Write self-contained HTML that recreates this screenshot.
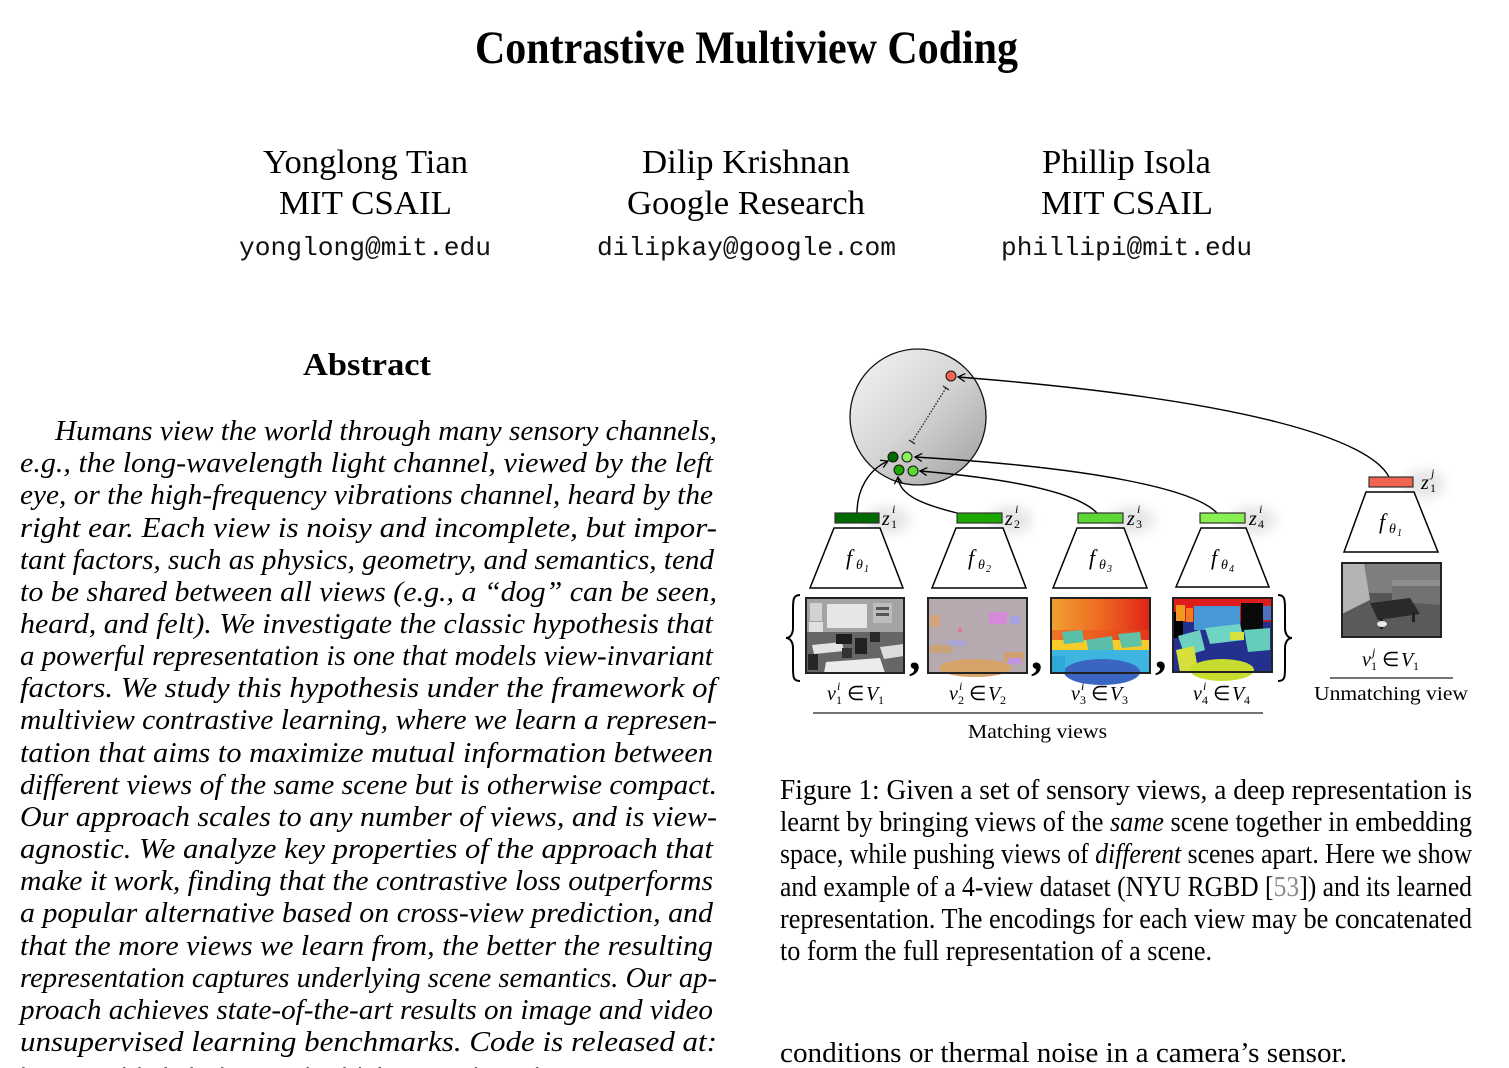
<!DOCTYPE html>
<html><head><meta charset="utf-8"><style>
html,body{margin:0;padding:0;background:#fff;}
svg{display:block;}
.t{font-family:"Liberation Serif",serif;fill:#000;}
.i{font-family:"Liberation Serif",serif;font-style:italic;fill:#000;}
.m{font-family:"Liberation Mono",monospace;fill:#111;}
</style></head><body>
<svg width="1509" height="1068" viewBox="0 0 1509 1068" xmlns="http://www.w3.org/2000/svg">
<defs>
<linearGradient id="sph" x1="0" y1="0" x2="1" y2="1">
<stop offset="0" stop-color="#f6f6f6"/><stop offset="0.5" stop-color="#d4d4d4"/><stop offset="1" stop-color="#9c9c9c"/>
</linearGradient>
<linearGradient id="dep" x1="0" y1="0" x2="1" y2="0">
<stop offset="0" stop-color="#f0a030"/><stop offset="0.5" stop-color="#ee6a22"/><stop offset="1" stop-color="#de2418"/>
</linearGradient>
<marker id="ar" markerWidth="10" markerHeight="10" refX="8" refY="5" orient="auto" markerUnits="userSpaceOnUse">
<path d="M1,1 L8,5 L1,9" fill="none" stroke="#000" stroke-width="1.3"/>
</marker>
<filter id="bl" x="-50%" y="-50%" width="200%" height="200%"><feGaussianBlur stdDeviation="6"/></filter>
</defs>

<text class="t" x="475" y="63" font-size="47" font-weight="bold" textLength="543" lengthAdjust="spacingAndGlyphs">Contrastive Multiview Coding</text>

<text class="t" x="263" y="173" font-size="34" textLength="205" lengthAdjust="spacingAndGlyphs">Yonglong Tian</text>
<text class="t" x="279" y="214" font-size="34" textLength="173" lengthAdjust="spacingAndGlyphs">MIT CSAIL</text>
<text class="m" x="239" y="255" font-size="26" textLength="252" lengthAdjust="spacingAndGlyphs">yonglong@mit.edu</text>

<text class="t" x="642" y="173" font-size="34" textLength="208" lengthAdjust="spacingAndGlyphs">Dilip Krishnan</text>
<text class="t" x="627" y="214" font-size="34" textLength="238" lengthAdjust="spacingAndGlyphs">Google Research</text>
<text class="m" x="597" y="255" font-size="26" textLength="299" lengthAdjust="spacingAndGlyphs">dilipkay@google.com</text>

<text class="t" x="1042" y="173" font-size="34" textLength="169" lengthAdjust="spacingAndGlyphs">Phillip Isola</text>
<text class="t" x="1041" y="214" font-size="34" textLength="172" lengthAdjust="spacingAndGlyphs">MIT CSAIL</text>
<text class="m" x="1001" y="255" font-size="26" textLength="251" lengthAdjust="spacingAndGlyphs">phillipi@mit.edu</text>

<text class="t" x="303" y="375" font-size="32" font-weight="bold" textLength="128" lengthAdjust="spacingAndGlyphs">Abstract</text>

<g class="i" font-size="29">
<text class="i" x="55" y="440" textLength="662" lengthAdjust="spacingAndGlyphs">Humans view the world through many sensory channels,</text>
<text class="i" x="20" y="472" textLength="693" lengthAdjust="spacingAndGlyphs">e.g., the long-wavelength light channel, viewed by the left</text>
<text class="i" x="20" y="504" textLength="693" lengthAdjust="spacingAndGlyphs">eye, or the high-frequency vibrations channel, heard by the</text>
<text class="i" x="20" y="537" textLength="697" lengthAdjust="spacingAndGlyphs">right ear.  Each view is noisy and incomplete, but impor-</text>
<text class="i" x="20" y="569" textLength="694" lengthAdjust="spacingAndGlyphs">tant factors, such as physics, geometry, and semantics, tend</text>
<text class="i" x="20" y="601" textLength="697" lengthAdjust="spacingAndGlyphs">to be shared between all views (e.g., a “dog” can be seen,</text>
<text class="i" x="20" y="633" textLength="693" lengthAdjust="spacingAndGlyphs">heard, and felt). We investigate the classic hypothesis that</text>
<text class="i" x="20" y="665" textLength="693" lengthAdjust="spacingAndGlyphs">a powerful representation is one that models view-invariant</text>
<text class="i" x="20" y="697" textLength="696" lengthAdjust="spacingAndGlyphs">factors.  We study this hypothesis under the framework of</text>
<text class="i" x="20" y="729" textLength="697" lengthAdjust="spacingAndGlyphs">multiview contrastive learning, where we learn a represen-</text>
<text class="i" x="20" y="762" textLength="693" lengthAdjust="spacingAndGlyphs">tation that aims to maximize mutual information between</text>
<text class="i" x="20" y="794" textLength="697" lengthAdjust="spacingAndGlyphs">different views of the same scene but is otherwise compact.</text>
<text class="i" x="20" y="826" textLength="697" lengthAdjust="spacingAndGlyphs">Our approach scales to any number of views, and is view-</text>
<text class="i" x="20" y="858" textLength="693" lengthAdjust="spacingAndGlyphs">agnostic.  We analyze key properties of the approach that</text>
<text class="i" x="20" y="890" textLength="693" lengthAdjust="spacingAndGlyphs">make it work, finding that the contrastive loss outperforms</text>
<text class="i" x="20" y="922" textLength="693" lengthAdjust="spacingAndGlyphs">a popular alternative based on cross-view prediction, and</text>
<text class="i" x="20" y="955" textLength="693" lengthAdjust="spacingAndGlyphs">that the more views we learn from, the better the resulting</text>
<text class="i" x="20" y="987" textLength="697" lengthAdjust="spacingAndGlyphs">representation captures underlying scene semantics. Our ap-</text>
<text class="i" x="20" y="1019" textLength="693" lengthAdjust="spacingAndGlyphs">proach achieves state-of-the-art results on image and video</text>
<text class="i" x="20" y="1051" textLength="697" lengthAdjust="spacingAndGlyphs">unsupervised learning benchmarks.  Code is released at:</text>
</g>
<text class="m" x="20" y="1084" font-size="23" textLength="520" lengthAdjust="spacingAndGlyphs" style="fill:#555">https://github.com/HobbitLong/CMC/</text>

<g font-size="28">
<text class="t" x="780" y="799" textLength="692" lengthAdjust="spacingAndGlyphs">Figure 1: Given a set of sensory views, a deep representation is</text>
<text class="t" x="780" y="831" textLength="692" lengthAdjust="spacingAndGlyphs">learnt by bringing views of the <tspan font-style="italic">same</tspan> scene together in embedding</text>
<text class="t" x="780" y="863" textLength="692" lengthAdjust="spacingAndGlyphs">space, while pushing views of <tspan font-style="italic">different</tspan> scenes apart. Here we show</text>
<text class="t" x="780" y="896" textLength="692" lengthAdjust="spacingAndGlyphs">and example of a 4-view dataset (NYU RGBD [<tspan fill="#8a8a8a">53</tspan>]) and its learned</text>
<text class="t" x="780" y="928" textLength="692" lengthAdjust="spacingAndGlyphs">representation. The encodings for each view may be concatenated</text>
<text class="t" x="780" y="960" textLength="432" lengthAdjust="spacingAndGlyphs">to form the full representation of a scene.</text>
<text class="t" x="780" y="1062" textLength="567" lengthAdjust="spacingAndGlyphs">conditions or thermal noise in a camera’s sensor.</text>
</g>

<g filter="url(#bl)" fill="#000" opacity="0.10">
<ellipse cx="888" cy="520" rx="22" ry="14"/>
<ellipse cx="1010" cy="520" rx="22" ry="14"/>
<ellipse cx="1132" cy="520" rx="22" ry="14"/>
<ellipse cx="1254" cy="520" rx="22" ry="14"/>
<ellipse cx="1425" cy="484" rx="20" ry="14"/>
</g>

<circle cx="918" cy="417" r="68" fill="url(#sph)" stroke="#111" stroke-width="1.3"/>
<line x1="946" y1="388" x2="912" y2="442" stroke="#222" stroke-width="1.3" stroke-dasharray="1.5,1.5"/>
<line x1="943" y1="386" x2="949" y2="390" stroke="#222" stroke-width="1.3"/>
<line x1="909" y1="440" x2="915" y2="444" stroke="#222" stroke-width="1.3"/>

<g fill="none" stroke="#000" stroke-width="1.4">
<path d="M1389,477 C1370,440 1250,400 958,377" marker-end="url(#ar)"/>
<path d="M1217,513 C1195,490 1100,468 915,457" marker-end="url(#ar)"/>
<path d="M1097,513 C1075,490 1000,478 920,471" marker-end="url(#ar)"/>
<path d="M957,513 C925,505 899,496 898,477" marker-end="url(#ar)"/>
<path d="M857,513 C857,490 868,470 888,461" marker-end="url(#ar)"/>
</g>

<g stroke="#111" stroke-width="1">
<circle cx="951" cy="376" r="5" fill="#f26452"/>
<circle cx="893" cy="457" r="5" fill="#006a00"/>
<circle cx="907" cy="457" r="5" fill="#8cf060"/>
<circle cx="899" cy="470" r="5" fill="#1aa800"/>
<circle cx="913" cy="471" r="5" fill="#5cd835"/>
</g>

<g stroke="#333" stroke-width="1.2">
<rect x="835" y="513" width="44" height="10" fill="#006a00"/>
<rect x="957" y="513" width="45" height="10" fill="#1aa800"/>
<rect x="1078" y="513" width="45" height="10" fill="#5cd835"/>
<rect x="1200" y="513" width="45" height="10" fill="#88f050"/>
<rect x="1369" y="477" width="44" height="10" fill="#f06450"/>
</g>

<g fill="#fff" stroke="#000" stroke-width="1.5">
<polygon points="834,528 880,528 903,588 810,588"/>
<polygon points="956,528 1003,528 1026,588 932,588"/>
<polygon points="1077,528 1124,528 1147,588 1053,588"/>
<polygon points="1201,528 1246,528 1269,587 1176,587"/>
<polygon points="1366,492 1414,492 1438,552 1344,552"/>
</g>

<g class="i">
<text class="i" x="846" y="565" font-size="22">f</text><text class="i" x="856" y="569" font-size="14">θ</text><text class="t" x="864" y="572" font-size="10">1</text>
<text class="i" x="968" y="565" font-size="22">f</text><text class="i" x="978" y="569" font-size="14">θ</text><text class="t" x="986" y="572" font-size="10">2</text>
<text class="i" x="1089" y="565" font-size="22">f</text><text class="i" x="1099" y="569" font-size="14">θ</text><text class="t" x="1107" y="572" font-size="10">3</text>
<text class="i" x="1211" y="565" font-size="22">f</text><text class="i" x="1221" y="569" font-size="14">θ</text><text class="t" x="1229" y="572" font-size="10">4</text>
<text class="i" x="1379" y="529" font-size="22">f</text><text class="i" x="1389" y="533" font-size="14">θ</text><text class="t" x="1397" y="536" font-size="10">1</text>
</g>

<g>
<text class="i" x="882" y="525" font-size="20">z</text><text class="i" x="892" y="513" font-size="12">i</text><text class="t" x="891" y="528" font-size="12">1</text>
<text class="i" x="1005" y="525" font-size="20">z</text><text class="i" x="1015" y="513" font-size="12">i</text><text class="t" x="1014" y="528" font-size="12">2</text>
<text class="i" x="1127" y="525" font-size="20">z</text><text class="i" x="1137" y="513" font-size="12">i</text><text class="t" x="1136" y="528" font-size="12">3</text>
<text class="i" x="1249" y="525" font-size="20">z</text><text class="i" x="1259" y="513" font-size="12">i</text><text class="t" x="1258" y="528" font-size="12">4</text>
<text class="i" x="1421" y="489" font-size="20">z</text><text class="i" x="1431" y="477" font-size="12">j</text><text class="t" x="1430" y="492" font-size="12">1</text>
</g>

<g>
<rect x="806" y="598" width="98" height="75" fill="#767676"/>
<rect x="806" y="598" width="98" height="34" fill="#a4a4a4"/>
<rect x="827" y="604" width="40" height="24" fill="#e6e6e6"/>
<rect x="810" y="603" width="12" height="18" fill="#d2d2d2"/>
<rect x="873" y="603" width="19" height="20" fill="#bdbdbd"/>
<rect x="876" y="607" width="13" height="3" fill="#555"/>
<rect x="876" y="613" width="13" height="3" fill="#555"/>
<rect x="809" y="622" width="14" height="16" fill="#e0e0e0"/>
<rect x="806" y="632" width="98" height="41" fill="#666"/>
<polygon points="812,645 842,642 844,651 814,654" fill="#e4e4e4"/>
<polygon points="880,647 904,644 904,656 884,659" fill="#dcdcdc"/>
<polygon points="826,662 880,658 885,673 824,673" fill="#ececec"/>
<rect x="836" y="634" width="16" height="10" fill="#1e1e1e"/>
<rect x="855" y="638" width="12" height="16" fill="#222"/>
<rect x="870" y="632" width="10" height="10" fill="#2a2a2a"/>
<rect x="808" y="654" width="10" height="16" fill="#262626"/>
<rect x="842" y="648" width="10" height="10" fill="#333"/>
<rect x="806" y="598" width="98" height="75" fill="none" stroke="#222" stroke-width="2"/>
</g>

<g>
<rect x="928" y="598" width="99" height="75" fill="#b6a9b0"/>
<ellipse cx="975" cy="668" rx="36" ry="9" fill="#d6a468"/>
<rect x="930" y="615" width="10" height="12" fill="#d2a47c"/>
<rect x="930" y="645" width="22" height="8" fill="#c9a27a"/>
<rect x="989" y="612" width="18" height="12" fill="#d48ad6"/>
<rect x="1010" y="616" width="10" height="8" fill="#a8a2e2"/>
<rect x="1004" y="652" width="20" height="10" fill="#d0a070"/>
<rect x="1008" y="658" width="14" height="6" fill="#c096e0"/>
<rect x="958" y="628" width="4" height="4" fill="#e07890"/>
<rect x="948" y="640" width="18" height="6" fill="#aaa6d4"/>
<rect x="928" y="598" width="99" height="75" fill="none" stroke="#222" stroke-width="2"/>
</g>

<g>
<rect x="1051" y="598" width="99" height="75" fill="url(#dep)"/>
<rect x="1051" y="630" width="99" height="14" fill="#e84c1c" opacity="0.5"/>
<rect x="1051" y="640" width="99" height="12" fill="#f6cc2a"/>
<polygon points="1062,632 1082,630 1084,642 1064,644" fill="#58c0a8"/>
<polygon points="1086,640 1112,636 1114,654 1090,656" fill="#5cbcaa"/>
<polygon points="1118,634 1140,632 1142,646 1122,648" fill="#62c2a6"/>
<rect x="1051" y="650" width="99" height="23" fill="#3eb4e0"/>
<ellipse cx="1102" cy="672" rx="38" ry="13" fill="#3a66c2"/>
<rect x="1051" y="656" width="14" height="17" fill="#2ea8d8"/>
<rect x="1051" y="598" width="99" height="75" fill="none" stroke="#222" stroke-width="2"/>
</g>

<g>
<rect x="1173" y="598" width="99" height="74" fill="#23308e"/>
<rect x="1173" y="598" width="99" height="16" fill="#e01c1c"/>
<rect x="1173" y="612" width="99" height="10" fill="#c81818"/>
<rect x="1173" y="612" width="10" height="26" fill="#000"/>
<rect x="1176" y="605" width="9" height="16" fill="#f09a20"/>
<rect x="1186" y="608" width="7" height="14" fill="#f07a20"/>
<rect x="1194" y="606" width="46" height="24" fill="#4898d8"/>
<rect x="1241" y="603" width="22" height="28" fill="#0a0a0a"/>
<rect x="1263" y="606" width="9" height="14" fill="#5070c0"/>
<polygon points="1178,636 1200,630 1205,650 1185,656" fill="#6ed0c0"/>
<polygon points="1205,628 1240,624 1244,640 1210,644" fill="#70d4c4"/>
<polygon points="1244,630 1270,628 1270,650 1248,652" fill="#66ccbc"/>
<polygon points="1176,650 1194,646 1198,670 1180,672" fill="#d6e03c"/>
<rect x="1230" y="632" width="14" height="8" fill="#d8e040"/>
<ellipse cx="1222" cy="670" rx="32" ry="11" fill="#c8dc30"/>
<rect x="1173" y="598" width="99" height="74" fill="none" stroke="#222" stroke-width="2"/>
</g>

<g>
<rect x="1342" y="563" width="99" height="74" fill="#555"/>
<rect x="1362" y="563" width="79" height="30" fill="#7e7e7e"/>
<polygon points="1342,563 1364,563 1370,600 1342,614" fill="#b4b4b4"/>
<rect x="1392" y="584" width="48" height="24" fill="#727272"/>
<rect x="1392" y="580" width="48" height="6" fill="#8e8e8e"/>
<polygon points="1342,614 1370,600 1441,605 1441,637 1342,637" fill="#5a5a5a"/>
<polygon points="1370,603 1410,598 1420,614 1378,620" fill="#2a2a2a"/>
<rect x="1380" y="619" width="3" height="10" fill="#222"/>
<rect x="1412" y="612" width="3" height="10" fill="#222"/>
<ellipse cx="1382" cy="624" rx="5" ry="3" fill="#e8e8e8"/>
<rect x="1342" y="563" width="99" height="74" fill="none" stroke="#222" stroke-width="2"/>
</g>

<g fill="none" stroke="#000" stroke-width="2">
<path d="M800,595 C793,595 793,600 793,610 L793,628 C793,634 790,638 786,638 C790,638 793,642 793,648 L793,667 C793,677 793,681 800,681"/>
<path d="M1278,595 C1285,595 1285,600 1285,610 L1285,628 C1285,634 1288,638 1292,638 C1288,638 1285,642 1285,648 L1285,667 C1285,677 1285,681 1278,681"/>
</g>

<text class="t" x="909" y="669" font-size="46" font-weight="bold">,</text>
<text class="t" x="1031" y="669" font-size="46" font-weight="bold">,</text>
<text class="t" x="1155" y="668" font-size="46" font-weight="bold">,</text>

<g>
<text class="i" x="827" y="700" font-size="20">v</text><text class="i" x="837" y="690" font-size="12">i</text><text class="t" x="836" y="704" font-size="12">1</text><text class="t" x="847" y="700" font-size="20">∈</text><text class="i" x="866" y="700" font-size="20">V</text><text class="t" x="878" y="704" font-size="12">1</text>
<text class="i" x="949" y="700" font-size="20">v</text><text class="i" x="959" y="690" font-size="12">i</text><text class="t" x="958" y="704" font-size="12">2</text><text class="t" x="969" y="700" font-size="20">∈</text><text class="i" x="988" y="700" font-size="20">V</text><text class="t" x="1000" y="704" font-size="12">2</text>
<text class="i" x="1071" y="700" font-size="20">v</text><text class="i" x="1081" y="690" font-size="12">i</text><text class="t" x="1080" y="704" font-size="12">3</text><text class="t" x="1091" y="700" font-size="20">∈</text><text class="i" x="1110" y="700" font-size="20">V</text><text class="t" x="1122" y="704" font-size="12">3</text>
<text class="i" x="1193" y="700" font-size="20">v</text><text class="i" x="1203" y="690" font-size="12">i</text><text class="t" x="1202" y="704" font-size="12">4</text><text class="t" x="1213" y="700" font-size="20">∈</text><text class="i" x="1232" y="700" font-size="20">V</text><text class="t" x="1244" y="704" font-size="12">4</text>
<text class="i" x="1362" y="666" font-size="20">v</text><text class="i" x="1372" y="656" font-size="12">j</text><text class="t" x="1371" y="670" font-size="12">1</text><text class="t" x="1382" y="666" font-size="20">∈</text><text class="i" x="1401" y="666" font-size="20">V</text><text class="t" x="1413" y="670" font-size="12">1</text>
</g>

<line x1="813" y1="713" x2="1263" y2="713" stroke="#222" stroke-width="1.3"/>
<text class="t" x="968" y="738" font-size="20" textLength="139" lengthAdjust="spacingAndGlyphs">Matching views</text>
<line x1="1330" y1="678" x2="1453" y2="678" stroke="#222" stroke-width="1.3"/>
<text class="t" x="1314" y="700" font-size="20" textLength="154" lengthAdjust="spacingAndGlyphs">Unmatching view</text>

</svg>
</body></html>
